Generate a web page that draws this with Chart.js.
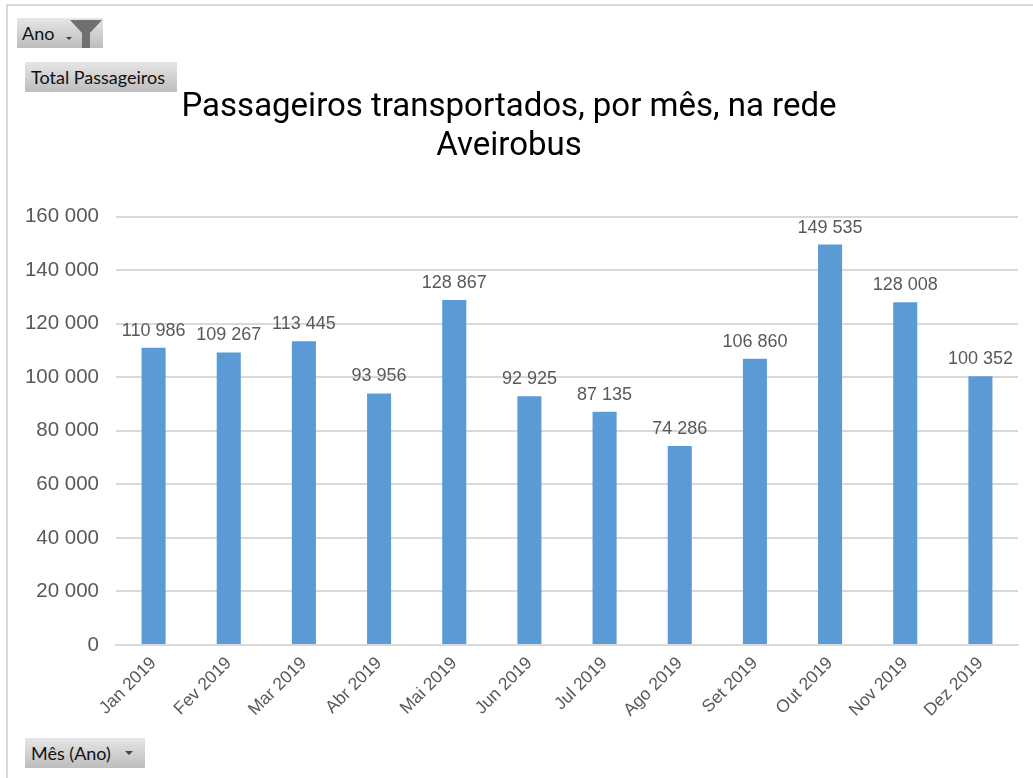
<!DOCTYPE html>
<html lang="pt">
<head>
<meta charset="utf-8">
<style>
html,body{margin:0;padding:0;background:#fff;width:1033px;height:778px;overflow:hidden}
#frame{position:absolute;left:6px;top:4px;width:1027px;height:774px;border-left:2px solid #d9d9d9;border-top:2px solid #d9d9d9;box-sizing:border-box}
#wrap{position:absolute;left:0;top:0;width:1033px;height:778px}
.btn{position:absolute;height:30px;background:linear-gradient(#e6e6e6,#bdbdbd);font:18px/31px Lato,sans-serif;color:#111;box-sizing:border-box;white-space:nowrap}
.arrow{position:absolute;width:0;height:0;border-left:4px solid transparent;border-right:4px solid transparent;border-top:4px solid #444}
</style>
</head>
<body>
<div id="frame"></div>
<div id="wrap"><canvas id="c" width="1033" height="778"></canvas></div>
<div class="btn" style="left:17px;top:18px;width:86px;padding-left:5px">Ano
  <span class="arrow" style="left:49px;top:19px;border-left-width:3px;border-right-width:3px;border-top-width:3px"></span>
  <svg style="position:absolute;left:52px;top:1px" width="34" height="29" viewBox="0 0 34 29"><path d="M1 1H33L21 14V29H13V14Z" fill="#707070"/></svg>
</div>
<div class="btn" style="left:25px;top:62px;width:152px;padding-left:6px">Total Passageiros</div>
<div class="btn" style="left:25px;top:738px;width:120px;padding-left:6px">Mês (Ano)
  <span class="arrow" style="left:100px;top:13px"></span>
</div>
<script src="https://cdn.jsdelivr.net/npm/chart.js@4/dist/chart.umd.min.js"></script>
<script>
const titleLines = ["Passageiros transportados, por mês, na rede", "Aveirobus"];
const categories = ["Jan 2019","Fev 2019","Mar 2019","Abr 2019","Mai 2019","Jun 2019","Jul 2019","Ago 2019","Set 2019","Out 2019","Nov 2019","Dez 2019"];
const seriesName = "Total";
const values = [110986,109267,113445,93956,128867,92925,87135,74286,106860,149535,128008,100352];
const fmt = v => String(v).replace(/\B(?=(\d{3})+$)/g, " ");
const FONT = '"Liberation Sans", sans-serif';

const dataLabels = {
  id: "dataLabels",
  afterDatasetsDraw(chart) {
    const {ctx} = chart;
    const meta = chart.getDatasetMeta(0);
    ctx.save();
    ctx.font = "18px " + FONT;
    ctx.fillStyle = "#595959";
    ctx.textAlign = "center";
    ctx.textBaseline = "bottom";
    meta.data.forEach((bar, i) => ctx.fillText(fmt(values[i]), bar.x, bar.y - 8));
    ctx.restore();
  }
};

new Chart(document.getElementById("c"), {
  type: "bar",
  data: {labels: categories, datasets: [{label: seriesName, data: values, backgroundColor: "#5b9bd5", barPercentage: 0.32, categoryPercentage: 1}]},
  options: {
    responsive: false,
    animation: false,
    layout: {padding: {left: 0, right: 15, top: 89, bottom: 0}},
    plugins: {
      legend: {display: false},
      tooltip: {enabled: false},
      title: {display: true, text: titleLines, color: "#000", font: {family: "Roboto, sans-serif", size: 33, weight: "normal", lineHeight: 1.16}, padding: {top: 0, bottom: 51}}
    },
    scales: {
      x: {
        grid: {display: false, drawTicks: false},
        border: {color: "#d9d9d9", width: 2},
        ticks: {color: "#595959", font: {family: FONT, size: 17.5}, maxRotation: 45, minRotation: 45, autoSkip: false, padding: 8},
        afterFit(s) { s.height = 133; }
      },
      y: {
        min: 0, max: 160000,
        grid: {color: "#d9d9d9", lineWidth: 2, drawTicks: false},
        border: {display: false},
        ticks: {stepSize: 20000, color: "#595959", font: {family: FONT, size: 20.5}, padding: 17, callback: v => fmt(v)},
        afterFit(s) { s.width = 116; }
      }
    }
  },
  plugins: [dataLabels]
});
</script>
</body>
</html>
